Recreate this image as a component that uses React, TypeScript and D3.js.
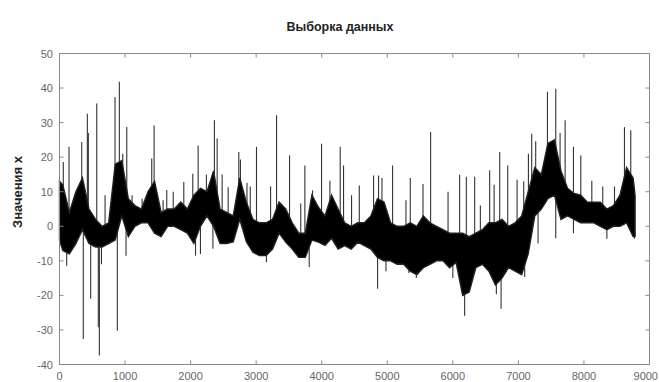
import React from "react";
import * as d3 from "d3";

// Dense band of the signal: bin centre, upper and lower edge of the black core
const coreT = [0, 50, 150, 250, 350, 450, 550, 650, 750, 850, 950, 1050, 1150, 1250, 1350, 1450, 1550, 1650, 1750, 1850, 1950, 2050, 2150, 2250, 2350, 2450, 2550, 2650, 2750, 2850, 2950, 3050, 3150, 3250, 3350, 3450, 3550, 3650, 3750, 3850, 3950, 4050, 4150, 4250, 4350, 4450, 4550, 4650, 4750, 4850, 4950, 5050, 5150, 5250, 5350, 5450, 5550, 5650, 5750, 5850, 5950, 6050, 6150, 6250, 6350, 6450, 6550, 6650, 6750, 6850, 6950, 7050, 7150, 7250, 7350, 7450, 7550, 7650, 7750, 7850, 7950, 8050, 8150, 8250, 8350, 8450, 8550, 8650, 8750, 8780];
const coreHi = [13, 12, 4, 10, 14, 5, 2, 0, 1, 18, 19, 8, 6, 5, 10, 13, 4, 5, 5, 7, 5, 9, 11, 10, 16, 5, 4, 3, 14, 7, 2, 1, 1, 2, 7, 5, 1, -2, -2, 9, 5.5, 3, 9, 5, 1, 0, 1, 1, 3, 8, 7, 1, 0, 0, 1, 0, 3, 1, 0, -1, -2, -2, -2, -3, -2, -1, 1, 1, 2, 0, 1, 3, 10, 17, 15, 24, 25, 16, 11, 9.5, 9, 7, 7, 7, 5, 6, 9, 17, 14, 9];
const coreLo = [-4, -7, -8, -5, -1, -5, -6, -6, -5, -4, 3, -3, 0, 1, 1, -2, -3, 0, 0, -1, -2, -5, 0, 3, 0, -5, -5, -4.5, 2, -4.5, -7.5, -8.5, -8.5, -6.6, -2, -4.6, -6.6, -9, -9, -4, -4.6, -5.5, -3.5, -6.6, -5.6, -6.6, -4.6, -5.6, -6.6, -9, -10, -10, -11, -11, -13, -14, -12, -11, -10, -10, -12, -10.5, -20, -19, -12, -11, -13, -17, -15, -12, -13, -14, -8, 3, 5, 8, 9, 2, 3, 2, 1, 1, 1, 0, -1, 0, 0, 1, -3, -3];

// Isolated peaks rising above the band
const upT = [58, 145, 339, 425, 440, 568, 695, 847, 913, 965, 1026, 1107, 1260, 1407, 1443, 1580, 1636, 1735, 1896, 2033, 2115, 2241, 2363, 2405, 2481, 2573, 2735, 2760, 2860, 2910, 3005, 3220, 3311, 3509, 3680, 3743, 3860, 3997, 4125, 4282, 4333, 4455, 4573, 4791, 4867, 4919, 5081, 5285, 5351, 5545, 5661, 5927, 6104, 6206, 6333, 6420, 6562, 6630, 6715, 6837, 6980, 7081, 7153, 7203, 7264, 7443, 7570, 7636, 7713, 7840, 7952, 8120, 8287, 8466, 8618, 8714];
const upV = [18.6, 23, 24.4, 32.6, 27, 35.5, 9, 37.4, 41.8, 21, 28.7, 9, 8, 19.6, 29.2, 7.5, 10.5, 10, 12.8, 15.2, 23.4, 15, 30.7, 25.4, 15, 11.3, 21.5, 19.3, 12.5, 11.5, 23, 11.5, 32.1, 20.5, 6.6, 17.6, 10.4, 23.9, 13.2, 23, 17.6, 9, 11.8, 14.7, 14.7, 14, 17.6, 7.5, 14, 12.2, 27.3, 10, 14.9, 14.3, 14.3, 6, 16.2, 12, 21.5, 17.6, 13.5, 13, 21, 26.8, 24.6, 38.9, 39.8, 27, 30.7, 23, 20.5, 13.2, 11.5, 11.5, 28.7, 27.8];

// Isolated troughs falling below the band
const downT = [110, 363, 476, 592, 608, 640, 882, 1015, 2075, 2150, 2340, 3157, 3809, 4852, 4980, 5330, 5443, 6000, 6180, 6664, 6736, 7096, 7300, 7570, 7840, 8350, 8770];
const downV = [-11.4, -32.6, -21, -29.2, -37.4, -11, -30.2, -8.5, -8.5, -8, -6.5, -10.4, -11.8, -18.1, -13, -13.5, -15, -15, -25.9, -19.7, -23.9, -14.7, -5, -3.5, -2, -3.6, -3.6];

const xTicks = [0, 1000, 2000, 3000, 4000, 5000, 6000, 7000, 8000, 9000];
const yTicks = [-40, -30, -20, -10, 0, 10, 20, 30, 40, 50];

const W = 659;
const H = 382;
const left = 59.5;
const right = 649.5;
const top = 53.5;
const bottom = 364.5;

export default function App() {
  const x = d3.scaleLinear().domain([0, 9000]).range([left, right]);
  const y = d3.scaleLinear().domain([-40, 50]).range([bottom, top]);
  const mid = d3
    .scaleLinear()
    .domain(coreT)
    .range(coreT.map((_, i) => (coreHi[i] + coreLo[i]) / 2));

  const area = d3
    .area<number>()
    .x((i) => x(coreT[i]))
    .y0((i) => y(coreLo[i]))
    .y1((i) => y(coreHi[i]))
    .curve(d3.curveLinear);
  const idx = coreT.map((_, i) => i);

  const font = "'Liberation Sans', Arial, sans-serif";
  const axisCol = "#8a8a8a";
  const labCol = "#666";
  const tl = 4;

  return (
    <svg
      width={W}
      height={H}
      style={{ position: "fixed", left: 0, top: 0, background: "#fff" }}
    >
      <text
        x={340}
        y={31}
        textAnchor="middle"
        fontFamily={font}
        fontSize={12.5}
        fontWeight={600}
        fill="#222"
      >
        Выборка  данных
      </text>
      <text
        transform={`translate(22,${192}) rotate(-90)`}
        textAnchor="middle"
        fontFamily={font}
        fontSize={13}
        fontWeight={600}
        fill="#222"
      >
        Значения  x
      </text>

      {/* spikes */}
      <g stroke="#333" strokeWidth={1.1}>
        {upT.map((t, i) => (
          <line key={"u" + i} x1={x(t)} x2={x(t)} y1={y(mid(t))} y2={y(upV[i])} />
        ))}
        {downT.map((t, i) => (
          <line key={"d" + i} x1={x(t)} x2={x(t)} y1={y(mid(t))} y2={y(downV[i])} />
        ))}
      </g>
      {/* dense core band */}
      <path d={area(idx) || ""} fill="#000" stroke="#222" strokeWidth={1.4} />

      {/* frame */}
      <rect
        x={left}
        y={top}
        width={right - left}
        height={bottom - top}
        fill="none"
        stroke={axisCol}
        strokeWidth={1}
      />
      <g stroke={axisCol} strokeWidth={1}>
        {xTicks.map((t) => (
          <g key={"xt" + t}>
            <line x1={x(t)} x2={x(t)} y1={bottom} y2={bottom - tl} />
            <line x1={x(t)} x2={x(t)} y1={top} y2={top + tl} />
          </g>
        ))}
        {yTicks.map((v) => (
          <g key={"yt" + v}>
            <line x1={left} x2={left + tl} y1={y(v)} y2={y(v)} />
            <line x1={right} x2={right - tl} y1={y(v)} y2={y(v)} />
          </g>
        ))}
      </g>
      <g fontFamily={font} fontSize={11} fill={labCol}>
        {xTicks.map((t, i) => (
          <text
            key={"xl" + t}
            x={i === xTicks.length - 1 ? W - 1 : x(t)}
            y={380}
            textAnchor={i === xTicks.length - 1 ? "end" : "middle"}
          >
            {t}
          </text>
        ))}
        {yTicks.map((v) => (
          <text key={"yl" + v} x={53} y={y(v) + 4} textAnchor="end">
            {v}
          </text>
        ))}
      </g>
    </svg>
  );
}
